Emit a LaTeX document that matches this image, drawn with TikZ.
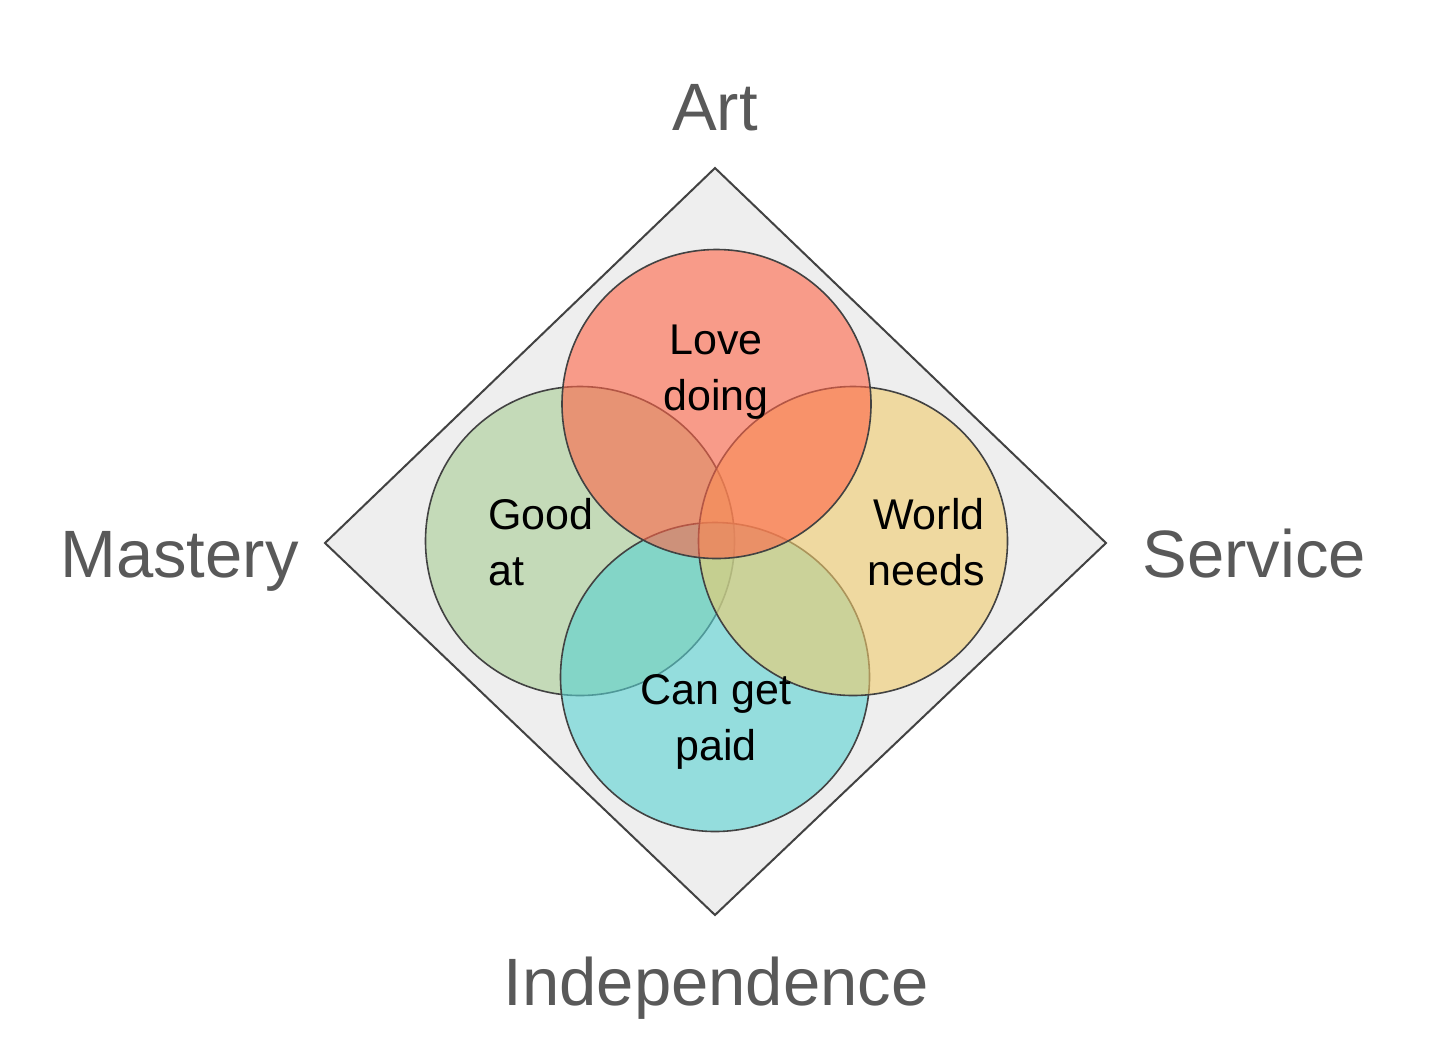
\documentclass[tikz,border=0pt]{standalone}
\usepackage{fontspec}
\setmainfont{Liberation Sans}
\begin{document}
\begin{tikzpicture}[x=0.5pt,y=-0.5pt,
  outerlabel/.style={inner sep=0pt,anchor=base,text=labelgray,font=\fontsize{33.5pt}{40pt}\selectfont},
  innerlabel/.style={inner sep=0pt,text=black,font=\fontsize{21.5pt}{27.8pt}\selectfont},
  vennfill/.style={fill=#1,fill opacity=0.6},
  vennline/.style={draw=strokegray,line width=0.8pt}
]
\definecolor{labelgray}{HTML}{595959}
\definecolor{strokegray}{HTML}{424242}
\definecolor{diamondfill}{HTML}{EEEEEE}
\definecolor{vred}{RGB}{255,100,71}
\definecolor{vgreen}{RGB}{168,206,148}
\definecolor{vyellow}{RGB}{241,203,108}
\definecolor{vteal}{RGB}{89,210,210}
\useasboundingbox (0,0) rectangle (1456,1056);
% diamond
\coordinate (dt) at (715,168);
\coordinate (dr) at (1106,543);
\coordinate (db) at (715,915);
\coordinate (dl) at (325,543);
\draw[fill=diamondfill,draw=strokegray,line width=1pt,line join=miter] (dt) -- (dr) -- (db) -- (dl) -- cycle;
% circle centres
\coordinate (cg) at (580,541);
\coordinate (ct) at (715,677);
\coordinate (cy) at (853,541);
\coordinate (cr) at (716.5,404);
% circles, bottom to top
\fill[vennfill=vgreen] (cg) circle[radius=154.5];
\draw[vennline] (cg) circle[radius=154.5];
\fill[vennfill=vteal] (ct) circle[radius=154.5];
\draw[vennline] (ct) circle[radius=154.5];
\fill[vennfill=vyellow] (cy) circle[radius=154.5];
\draw[vennline] (cy) circle[radius=154.5];
\fill[vennfill=vred] (cr) circle[radius=154.5];
\draw[vennline] (cr) circle[radius=154.5];
% inner labels
\node[innerlabel,align=center] (love) at (716,372) {Love\\doing};
\node[innerlabel,align=left,anchor=west] (good) at (488,542) {Good\\at};
\node[innerlabel,align=right,anchor=east] (world) at (985,542) {World\\needs};
\node[innerlabel,align=center] (paid) at (716,722) {Can get\\paid};
% outer labels
\node[outerlabel] (art) at (715,130) {Art};
\node[outerlabel,anchor=base west] (mastery) at (60,577) {Mastery};
\node[outerlabel,anchor=base west] (service) at (1142,577) {Service};
\node[outerlabel] (indep) at (716,1005) {Independence};
\end{tikzpicture}
\end{document}
